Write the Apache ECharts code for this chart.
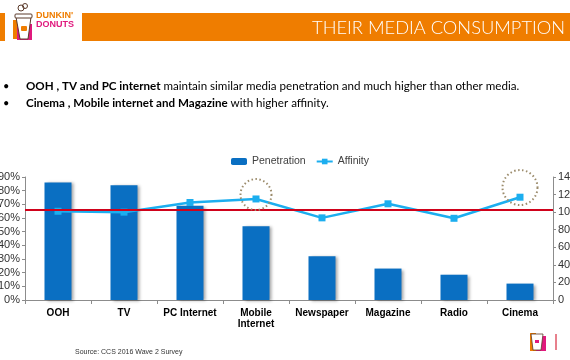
<!DOCTYPE html>
<html>
<head>
<meta charset="utf-8">
<script src="https://cdn.jsdelivr.net/npm/echarts@6/dist/echarts.min.js"></script>
<style>
  html, body { margin: 0; padding: 0; background: #fff; }
  #chart { width: 570px; height: 360px; }
</style>
</head>
<body>
<div id="chart"></div>
<script>
// ---- Data ----
const categories = ['OOH', 'TV', 'PC Internet', 'Mobile\nInternet', 'Newspaper', 'Magazine', 'Radio', 'Cinema'];
const penetration = [86, 84, 69, 54, 32, 23, 18.5, 12];
const affinity = [101, 100, 111, 115, 93.5, 109.5, 93, 117];
const benchmark = 103;
const highlighted = [{ cat: 'Mobile\nInternet', y: 120, size: 31 }, { cat: 'Cinema', y: 128, size: 35 }];
const titleText = 'THEIR MEDIA CONSUMPTION';
const bullet1Bold = 'OOH , TV and PC internet';
const bullet1Rest = ' maintain similar media penetration and much higher than other media.';
const bullet2Bold = 'Cinema , Mobile internet and Magazine';
const bullet2Rest = ' with higher affinity.';
const sourceText = 'Source: CCS 2016 Wave 2 Survey';

const chart = echarts.init(document.getElementById('chart'), null, { renderer: 'canvas' });

const ORANGE = '#EF7D00';
const PINK = '#E0197D';

const option = {
  animation: false,
  backgroundColor: '#fff',
  textStyle: { fontFamily: 'Liberation Sans' },
  legend: {
    left: 226, top: 151,
    itemWidth: 16, itemHeight: 7, itemGap: 10,
    textStyle: { color: '#404040', fontSize: 10.5, fontFamily: 'Liberation Sans' },
    data: ['Penetration', 'Affinity']
  },
  grid: { left: 25, right: 17, top: 177, bottom: 60, containLabel: false, outerBoundsMode: 'none' },
  xAxis: {
    type: 'category',
    data: categories,
    axisLine: { lineStyle: { color: '#8c8c8c', width: 1 } },
    axisTick: { show: true, alignWithLabel: false, length: 4, lineStyle: { color: '#8c8c8c' } },
    axisLabel: { color: '#000', fontWeight: 'bold', fontSize: 10, margin: 8, lineHeight: 11, interval: 0 }
  },
  yAxis: [
    {
      type: 'value', min: 0, max: 90, interval: 10,
      axisLine: { show: true, lineStyle: { color: '#8c8c8c' } },
      axisTick: { show: true, length: 3, lineStyle: { color: '#8c8c8c' } },
      splitLine: { show: false },
      axisLabel: { formatter: '{value}%', color: '#333', fontSize: 11, margin: 5 }
    },
    {
      type: 'value', min: 0, max: 140, interval: 20,
      axisLine: { show: true, lineStyle: { color: '#8c8c8c' } },
      axisTick: { show: true, length: 3, lineStyle: { color: '#8c8c8c' } },
      splitLine: { show: false },
      axisLabel: { color: '#333', fontSize: 11, margin: 5 }
    }
  ],
  series: [
    {
      name: 'Penetration',
      type: 'bar',
      data: penetration,
      barWidth: 27,
      itemStyle: {
        color: '#0A6FC2',
        shadowColor: 'rgba(0,0,0,0.35)', shadowBlur: 3, shadowOffsetX: 2, shadowOffsetY: 1
      }
    },
    {
      name: 'Affinity',
      type: 'line',
      yAxisIndex: 1,
      data: affinity,
      symbol: 'rect',
      symbolSize: 7,
      lineStyle: { color: '#1CAEEF', width: 2.5 },
      itemStyle: { color: '#1CAEEF' },
      z: 3,
      markLine: {
        silent: true,
        symbol: 'none',
        label: { show: false },
        lineStyle: { color: '#D0021B', width: 2, type: 'solid' },
        data: [{ yAxis: benchmark }]
      },
      markPoint: {
        silent: true,
        label: { show: false },
        symbol: 'circle',
        itemStyle: { color: 'rgba(0,0,0,0)', borderColor: '#9C8C6C', borderWidth: 2, borderType: [1.5, 2.5] },
        data: highlighted.map(h => ({ coord: [h.cat, h.y], symbolSize: h.size }))
      }
    }
  ],
  graphic: [
    // header band
    { type: 'rect', shape: { x: 82, y: 13, width: 488, height: 28 }, style: { fill: ORANGE } },
    { type: 'rect', shape: { x: 0, y: 13, width: 5, height: 28 }, style: { fill: ORANGE } },
    { type: 'text', x: 565, y: 28, style: { text: titleText, fill: '#fff', font: '300 18.3px Lato', textAlign: 'right', textVerticalAlign: 'middle' } },
    // logo
    { type: 'rect', shape: { x: 13, y: 20, width: 4, height: 19 }, style: { fill: ORANGE } },
    { type: 'rect', shape: { x: 17, y: 24, width: 15, height: 16 }, style: { fill: PINK } },
    { type: 'polygon', shape: { points: [[16, 17], [31, 17], [28, 39], [20, 39]] }, style: { fill: '#fff', stroke: '#5a3a2a', lineWidth: 1 } },
    { type: 'rect', shape: { x: 15, y: 14, width: 17, height: 4, r: 1 }, style: { fill: '#fff', stroke: '#5a3a2a', lineWidth: 1 } },
    { type: 'circle', shape: { cx: 21, cy: 8, r: 3 }, style: { fill: 'none', stroke: '#5a3a2a', lineWidth: 1 } },
    { type: 'circle', shape: { cx: 25, cy: 6, r: 2.5 }, style: { fill: 'none', stroke: '#5a3a2a', lineWidth: 1 } },
    { type: 'rect', shape: { x: 21, y: 26, width: 6, height: 5, r: 1 }, style: { fill: ORANGE } },
    { type: 'text', x: 36, y: 16, style: { text: "DUNKIN'", fill: ORANGE, font: 'bold 9px Liberation Sans', textVerticalAlign: 'middle' } },
    { type: 'text', x: 36, y: 25, style: { text: 'DONUTS', fill: PINK, font: 'bold 9px Liberation Sans', textVerticalAlign: 'middle' } },
    // bullets
    { type: 'text', x: 3, y: 86, style: { text: '•', fill: '#000', font: '11px Lato', textVerticalAlign: 'middle' } },
    { type: 'text', x: 3, y: 103, style: { text: '•', fill: '#000', font: '11px Lato', textVerticalAlign: 'middle' } },
    { type: 'text', x: 26, y: 86, style: {
        text: '{b|' + bullet1Bold + '}{n|' + bullet1Rest + '}', textVerticalAlign: 'middle',
        rich: { b: { fontFamily: 'Lato', fontWeight: 'bold', fontSize: 11.6, fill: '#000' }, n: { fontFamily: 'Lato', fontSize: 11.6, fill: '#000' } } } },
    { type: 'text', x: 26, y: 103, style: {
        text: '{b|' + bullet2Bold + '}{n|' + bullet2Rest + '}', textVerticalAlign: 'middle',
        rich: { b: { fontFamily: 'Lato', fontWeight: 'bold', fontSize: 11.6, fill: '#000' }, n: { fontFamily: 'Lato', fontSize: 11.6, fill: '#000' } } } },
    // source
    { type: 'text', x: 75, y: 352, style: { text: sourceText, fill: '#333', font: '7px Liberation Sans', textVerticalAlign: 'middle' } },
    // bottom-right mini logo
    { type: 'rect', shape: { x: 530, y: 333, width: 6, height: 18 }, style: { fill: ORANGE } },
    { type: 'rect', shape: { x: 536, y: 336, width: 10, height: 15 }, style: { fill: PINK } },
    { type: 'polygon', shape: { points: [[531, 334], [543, 334], [541, 350], [533, 350]] }, style: { fill: '#fff', stroke: '#5a3a2a', lineWidth: 0.8 } },
    { type: 'rect', shape: { x: 535, y: 340, width: 4, height: 3 }, style: { fill: PINK } },
    { type: 'line', shape: { x1: 556, y1: 334, x2: 556, y2: 350 }, style: { stroke: '#D0021B', lineWidth: 1 } }
  ]
};

chart.setOption(option);
</script>
</body>
</html>
